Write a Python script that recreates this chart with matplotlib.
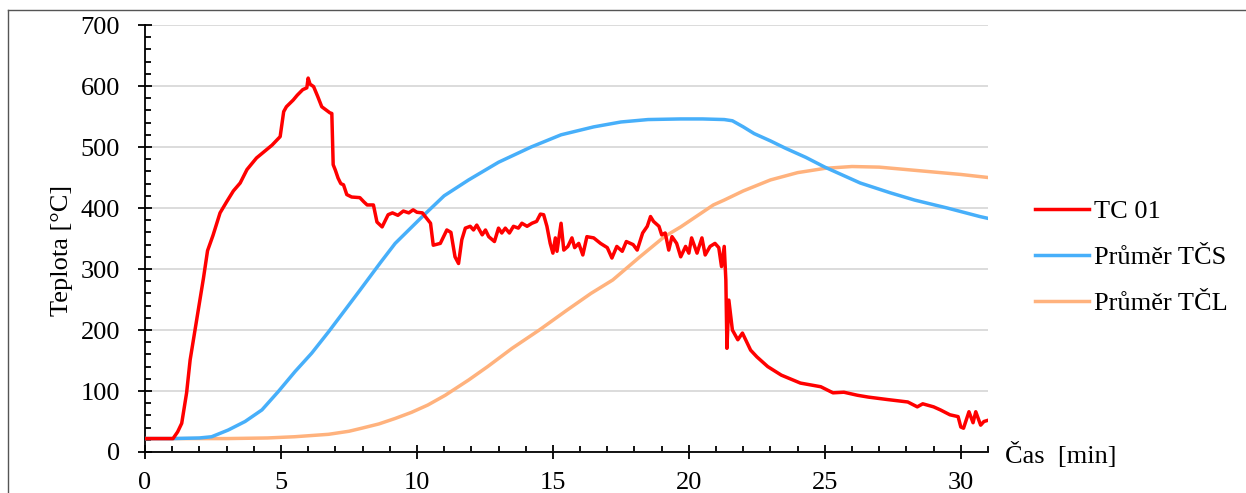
import matplotlib.pyplot as plt
from matplotlib.lines import Line2D
from matplotlib.ticker import MultipleLocator

plt.rcParams['font.family'] = ['Liberation Serif', 'DejaVu Serif']
plt.rcParams['font.size'] = 19

# TC 01
tc_t = [0, 0.5, 1.03, 1.2, 1.35, 1.53, 1.66, 1.84, 2.02, 2.15, 2.3, 2.5, 2.76, 3.0,
        3.25, 3.5, 3.75, 4.1, 4.4, 4.67, 4.97, 5.1, 5.2, 5.45, 5.6, 5.8, 5.95, 6.0, 6.07,
        6.2, 6.35, 6.5, 6.8, 6.87, 6.92, 7.0, 7.1, 7.2, 7.3, 7.42, 7.6, 7.9, 8.05, 8.17,
        8.4, 8.53, 8.72, 8.94, 9.1, 9.3, 9.5, 9.7, 9.86, 10.0, 10.2, 10.5, 10.6, 10.86,
        11.1, 11.25, 11.4, 11.53, 11.65, 11.78, 11.96, 12.08, 12.2, 12.4, 12.52, 12.64,
        12.85, 13.0, 13.12, 13.25, 13.4, 13.55, 13.73, 13.86, 14.05, 14.23, 14.4, 14.54,
        14.66, 14.78, 14.9, 15.0, 15.09, 15.15, 15.3, 15.4, 15.55, 15.7, 15.8, 15.95,
        16.1, 16.25, 16.5, 16.75, 17.0, 17.17, 17.35, 17.55, 17.7, 17.95, 18.1, 18.3,
        18.47, 18.59, 18.7, 18.9, 19.0, 19.13, 19.26, 19.38, 19.55, 19.7, 19.88, 20.0,
        20.1, 20.3, 20.48, 20.6, 20.78, 20.96, 21.1, 21.2, 21.3, 21.36, 21.4, 21.47,
        21.6, 21.8, 21.97, 22.27, 22.5, 22.9, 23.4, 24.1, 24.85, 25.3, 25.7, 26.2, 26.6,
        27.3, 28.05, 28.4, 28.6, 29.0, 29.25, 29.6, 29.9, 30.0, 30.1, 30.3, 30.45, 30.55,
        30.73, 30.85, 31.0]
tc_v = [22, 22, 22, 33, 47, 97, 151, 200, 249, 285, 330, 355, 392, 410,
        428, 441, 463, 482, 493, 503, 517, 558, 566, 577, 585, 594, 597, 613, 603,
        599, 583, 566, 556, 555, 471, 462, 449, 440, 438, 422, 418, 417, 410, 405,
        405, 377, 369, 389, 392, 388, 395, 392, 397, 393, 392, 375, 339, 342,
        364, 360, 320, 309, 348, 367, 370, 364, 372, 356, 364, 353,
        345, 367, 359, 367, 359, 370, 367, 375, 370, 375, 378, 390,
        389, 370, 342, 326, 351, 329, 375, 331, 337, 351, 335, 342,
        323, 353, 351, 342, 335, 318, 337, 329, 345, 340, 331, 359,
        370, 386, 378, 370, 356, 359, 331, 353, 342, 320, 337, 326,
        351, 326, 351, 323, 337, 342, 335, 304, 337, 282, 170, 249,
        200, 184, 195, 167, 156, 140, 126, 113, 107, 97, 98, 93, 90,
        86, 82, 74, 79, 74, 69, 61, 58, 41, 39, 66, 48, 66,
        44, 50, 52]

# Průměr TČS
tcs_t = [0, 1, 2, 2.45, 3.06, 3.68, 4.3, 4.9, 5.52, 6.13, 6.75, 7.36, 7.9, 8.65, 9.2,
         10.2, 11.0, 11.9, 13.0, 14.2, 15.3, 16.5, 17.5, 18.5, 19.7, 20.5, 21.3, 21.6,
         22.0, 22.4, 23.0, 23.55, 24.3, 25.0, 25.7, 26.3, 27.4, 28.3, 29.5, 30.7, 31.0]
tcs_v = [22, 22, 23, 25, 36, 50, 69, 99, 132, 162, 197, 233, 265, 310, 342,
         386, 420, 446, 475, 500, 520, 533, 541, 545, 546, 546, 545, 543,
         533, 522, 510, 498, 483, 467, 453, 441, 425, 413, 400, 386, 383]

# Průměr TČL
tcl_t = [0, 3, 4.5, 5.5, 6.75, 7.5, 7.97, 8.6, 9.2, 9.8, 10.4, 11.04, 11.9, 12.6, 13.5,
         14.5, 15.5, 16.4, 17.2, 18.2, 19.1, 19.7, 20.9, 21.3, 22.0, 23.0, 24.0, 25.0,
         26.0, 27.0, 28.0, 29.0, 30.0, 31.0]
tcl_v = [22, 22, 23, 25, 29, 34, 39, 46, 55, 65, 77, 93, 118, 140, 170,
         200, 232, 260, 282, 320, 353, 369, 405, 413, 428, 446, 458, 465,
         468, 467, 463, 459, 455, 450]

fig = plt.figure(figsize=(12.46, 4.93), dpi=100)
ax = fig.add_axes([145 / 1246, 1 - 452 / 493, 843 / 1246, 427 / 493])

ax.plot(tc_t, tc_v, color='#FF0000', lw=2.5, label='TC 01', zorder=5)
ax.plot(tcs_t, tcs_v, color='#47AFFA', lw=2.5, label='Průměr TČS', zorder=4)
ax.plot(tcl_t, tcl_v, color='#FFB27D', lw=2.5, label='Průměr TČL', zorder=3)

ax.set_xlim(0, 31)
ax.set_ylim(0, 700)
ax.xaxis.set_major_locator(MultipleLocator(5))
ax.xaxis.set_minor_locator(MultipleLocator(1))
ax.yaxis.set_major_locator(MultipleLocator(100))
ax.yaxis.set_minor_locator(MultipleLocator(20))
ax.tick_params(which='major', direction='inout', length=10, width=1.3)
ax.tick_params(axis='x', which='major', pad=9.5)
ax.tick_params(axis='y', which='major', pad=13)
ax.tick_params(which='minor', direction='in', length=4, width=1.3)
ax.grid(axis='y', which='major', color='#D9D9D9', lw=1.3)
ax.set_axisbelow(True)
for s in ['top', 'right']:
    ax.spines[s].set_visible(False)
for s in ['left', 'bottom']:
    ax.spines[s].set_linewidth(1.3)
    ax.spines[s].set_clip_on(False)

fig.text(62 / 1246, 1 - 250 / 493, 'Teplota [°C]', rotation=90, ha='center', va='center')
fig.text(1005 / 1246, 1 - 463 / 493, 'Čas  [min]', ha='left', va='baseline')

fig.legend(loc='upper left', bbox_to_anchor=(1035 / 1246, 1 - 200 / 493), frameon=False,
           borderpad=0, borderaxespad=0, handlelength=2.05, handletextpad=0.2,
           labelspacing=0.85)

# border of the figure frame
fig.add_artist(Line2D([8 / 1246, 8 / 1246], [0, 1 - 10 / 493], color='#555555', lw=1.0,
                      transform=fig.transFigure))
fig.add_artist(Line2D([8 / 1246, 1], [1 - 10 / 493, 1 - 10 / 493], color='#555555', lw=1.0,
                      transform=fig.transFigure))

fig.savefig('out.png', dpi=100)
